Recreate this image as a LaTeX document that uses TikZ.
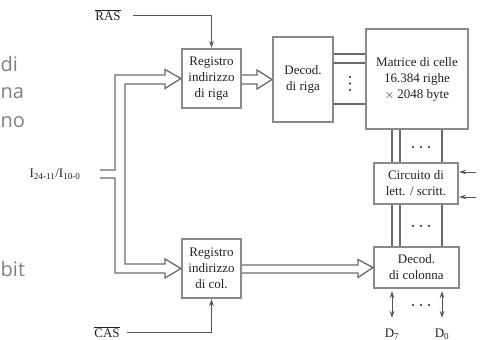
\documentclass[tikz,border=0pt]{standalone}
\usepackage{fontspec}
\setmainfont{Liberation Serif}
\newfontfamily\fragfont{Open Sans}
\usetikzlibrary{arrows.meta}
\definecolor{boxgray}{HTML}{8A8A8A}
\definecolor{linegray}{HTML}{555555}
\definecolor{busgray}{HTML}{6A6A6A}
\definecolor{txt}{HTML}{222222}
\definecolor{fraggray}{HTML}{808080}
\tikzset{
  blk/.style={draw=boxgray, line width=2pt, fill=white, align=center, inner sep=1pt,
    font=\fontsize{13}{16}\selectfont, text=txt},
  lbl/.style={font=\fontsize{13}{16}\selectfont, text=txt, inner sep=0pt},
  frag/.style={font=\fragfont\fontsize{20}{24}\selectfont, text=fraggray, inner sep=0pt, anchor=base west},
  conn/.style={draw=linegray, line width=0.9pt},
  sig/.style={conn, -{Stealth[length=7pt,width=4.5pt]}},
  bisig/.style={conn, {Stealth[length=7pt,width=4.5pt]}-{Stealth[length=7pt,width=4.5pt]}},
  bus/.style={draw=busgray, line width=1.3pt, line join=miter},
  wire/.style={draw=busgray, line width=1.3pt},
  dots/.style={fill=txt}
}
\begin{document}
\begin{tikzpicture}[x=1pt,y=-1pt]
\useasboundingbox (0,0) rectangle (491,340);

% fragments of neighbouring text
\node[frag] (f1) at (0.5,71) {di};
\node[frag] (f2) at (0.5,99) {na};
\node[frag] (f3) at (0.5,127) {no};
\node[frag] (f4) at (0.5,276) {bit};

% blocks
\node[blk, minimum width=59pt, minimum height=59pt] (regr) at (211.5,78.5) {Registro\\indirizzo\\di riga};
\node[blk, minimum width=59pt, minimum height=59pt] (regc) at (211.5,268.5) {Registro\\indirizzo\\di col.};
\node[blk, minimum width=60pt, minimum height=85pt] (decr) at (303,79.5) {Decod.\\di riga};
\node[blk, minimum width=102pt, minimum height=100pt] (mat) at (417,79) {Matrice di celle\\16.384 righe\\$\times$ 2048 byte};
\node[blk, minimum width=84pt, minimum height=41pt] (circ) at (416,183.5) {Circuito di\\lett. / scritt.};
\node[blk, minimum width=85pt, minimum height=41pt] (decc) at (416.5,267.5) {Decod.\\di colonna};

% labels
\node[lbl] (ras) at (108,15) {$\overline{\hbox{RAS}}$};
\node[lbl] (cas) at (107,332) {$\overline{\hbox{CAS}}$};
\node[lbl] (addr) at (55,174) {I\textsubscript{24-11}/I\textsubscript{10-0}};
\node[lbl] (d7) at (392,334) {D\textsubscript{7}};
\node[lbl] (d0) at (442,334) {D\textsubscript{0}};

\coordinate (rasS) at (133,15);
\coordinate (casS) at (127,332);
\draw[sig] (rasS) -| (regr.north);
\draw[sig] (casS) -| (regc.south);

% address bus
\draw[bus] (100,170) -- (115,170) -- (115,75) -- (165,75) -- (165,69.5) -- (regr.west)
  -- (165,88.5) -- (165,84) -- (125,84) -- (125,264) -- (165,264) -- (165,259)
  -- (regc.west) -- (165,278) -- (165,273) -- (115,273) -- (115,178) -- (100,178);
% reg riga -> decod riga
\draw[bus] (regr.east |- 0,75) -- (257,75) -- (257,70) -- (decr.west) -- (257,89) -- (257,84) -- (regr.east |- 0,84);
% reg col -> decod col
\draw[bus] (regc.east |- 0,265) -- (358,265) -- (358,259.5) -- (decc.west) -- (358,277.5) -- (358,273) -- (regc.east |- 0,273);

% decod riga -> matrice
\foreach \yy in {54,63,104} \draw[wire] (decr.east |- 0,\yy) -- (mat.west |- 0,\yy);
\foreach \yy in {77,83.5,90} \fill[dots] (350,\yy) circle (1.1pt);

% matrice -> circuito -> decod col
\foreach \xx in {392,400,442} {
  \draw[wire] (mat.south -| \xx,0) -- (circ.north -| \xx,0);
  \draw[wire] (circ.south -| \xx,0) -- (decc.north -| \xx,0);
}
\foreach \xx in {413,421,429} {
  \fill[dots] (\xx,147) circle (1.1pt);
  \fill[dots] (\xx,226) circle (1.1pt);
  \fill[dots] (\xx,305) circle (1.1pt);
}

% control inputs of circuito
\coordinate (c1) at (476,172);
\coordinate (c2) at (476,197);
\draw[sig] (c1) -- (circ.east |- c1);
\draw[sig] (c2) -- (circ.east |- c2);

% data lines
\coordinate (d7t) at (392,291);
\coordinate (d7b) at (392,318);
\coordinate (d0t) at (442,291);
\coordinate (d0b) at (442,318);
\draw[bisig] (d7t) -- (d7b);
\draw[bisig] (d0t) -- (d0b);
\end{tikzpicture}
\end{document}
